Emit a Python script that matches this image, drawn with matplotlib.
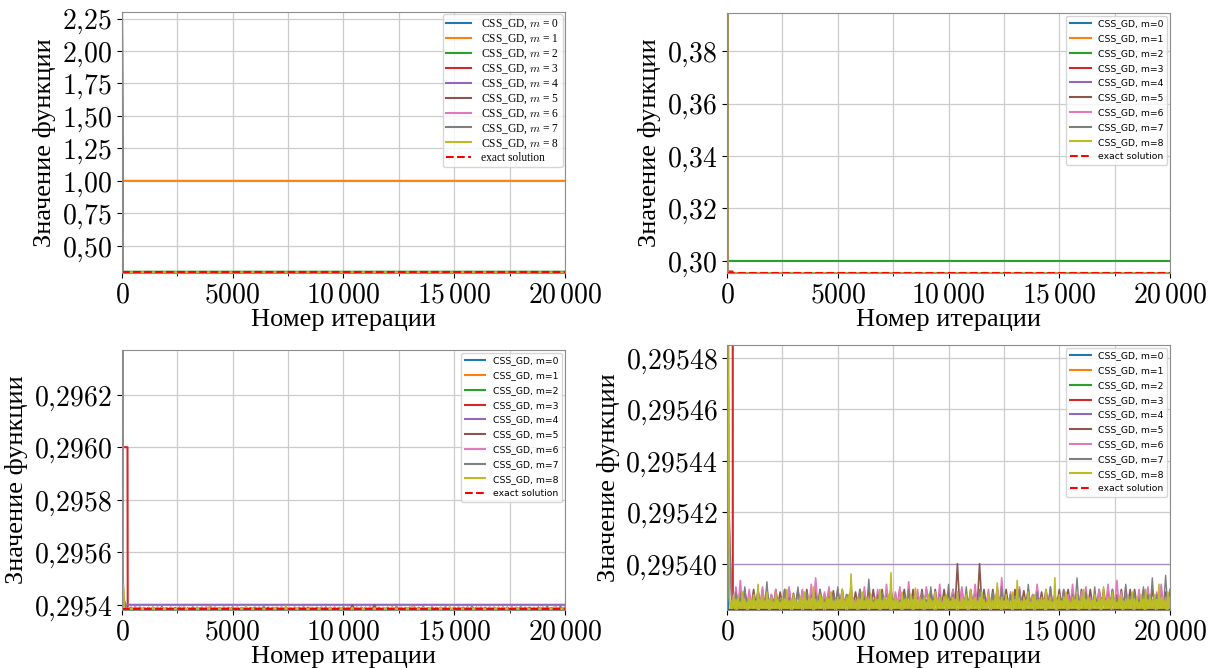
import numpy as np
import matplotlib
matplotlib.use('Agg')
import matplotlib.pyplot as plt
from matplotlib.ticker import FuncFormatter, MultipleLocator

plt.rcParams['mathtext.fontset'] = 'cm'

# objective values recorded during CSS_GD runs, 20000 iterations
n_iter = 20000
exact = 0.2953822
start = 2.30

# runs that settle on a constant value
const_iters = [0, 25, n_iter]
m0_vals = [start, exact, exact]
m1_vals = [start, 1.0, 1.0]
m2_vals = [start, 0.300, 0.300]
m3_iters = [0, 25, 250, 260, n_iter]
m3_vals = [start, 0.2960, 0.2960, exact, exact]
m4_vals = [start, 0.29540, 0.29540]

# oscillating runs: start transient, then the run jumps between a floor
# and the peaks listed below (offsets in 1e-6 above base_level)
base_level = 0.29538
head_iters = [0, 25, 50, 75]
m5_head = [start, 0.29570, 0.29545, 0.29541]
m6_head = [start, 0.29600, 0.29552, 0.29542]
m7_head = [start, 0.29565, 0.29549, 0.29543]
m8_head = [start, 0.29549, 0.295472, 0.29546]

m5_floor = 4.0
m6_floor = 3.0
m7_floor = 2.2
m8_floor = 2.2

m5_peaks = [10, 9, 10, 10, 8, 10, 9.5, 10, 10, 8,
            10, 9, 10, 10, 8.5, 10, 9.5, 10, 9, 10,
            10, 8, 10, 9.5, 10, 10, 8, 10, 9, 10,
            9, 10, 10, 8, 10, 9.5, 10, 8, 10, 10,
            9, 10, 8, 10, 10, 9.5, 10, 8, 10, 9,
            10, 20, 10, 8, 10, 9.5, 20, 10, 8, 10,
            10, 9, 10, 8, 10, 10, 9.5, 10, 8, 10,
            9, 10, 10, 8, 10, 9.5, 10, 10, 8, 10,
            9, 10, 8, 10, 10, 9.5, 10, 8, 10, 9,
            10, 10, 8, 10, 9.5, 10, 8, 10, 9, 10]
m6_peaks = [8, 11, 13.5, 7, 10, 6, 9, 11, 5, 8,
            10, 6, 9, 11, 7, 5, 10, 8, 12, 14.5,
            6, 9, 11, 7, 5, 10, 8, 12, 6, 9,
            11, 7, 5, 10, 8, 12, 6, 9, 11, 7,
            13, 5, 10, 8, 11, 6, 9, 12, 7, 5,
            10, 8, 11, 6, 9, 12, 7, 5, 10, 8,
            11, 14.5, 6, 9, 7, 11, 5, 10, 8, 12,
            6, 9, 11, 7, 5, 10, 8, 12, 6, 9,
            11, 7, 5, 10, 8, 12, 6, 13.5, 9, 11,
            7, 5, 10, 8, 11, 6, 9, 12, 7, 10]
m7_peaks = [5, 9, 7, 11, 6, 8, 10, 6, 13, 7,
            8, 6, 10, 7, 7, 11, 6, 9, 5, 8,
            10, 6, 7, 8, 11, 6, 8, 9, 5, 10,
            7, 14, 6, 8, 9, 6, 11, 7, 6, 8,
            10, 7, 5, 9, 6, 11, 7, 8, 6, 12,
            8, 9, 5, 11, 7, 7, 10, 8, 6, 9,
            6, 11, 7, 8, 7, 10, 6, 12, 7, 9,
            5, 8, 11, 7, 6, 10, 6, 8, 14.5, 7,
            9, 5, 11, 7, 8, 6, 10, 6, 7, 12,
            7, 9, 6, 11, 8, 14.5, 8, 6, 15.5, 10]
m8_peaks = [7, 5.5, 8, 6, 7, 5, 9, 6, 5, 7,
            6, 8, 5.5, 12, 6, 7, 5.5, 9, 6, 7,
            5, 8.5, 6, 5, 7, 6, 10, 5.5, 6, 8,
            6, 5, 7, 6, 9, 5.5, 7, 6, 11, 6,
            5.5, 8, 7, 5, 7, 6.5, 9, 5.5, 6, 7,
            6, 10, 5.5, 7, 8, 16, 6, 5, 7, 6,
            9, 5.5, 7, 6, 8, 5, 7, 6, 10, 5.5,
            7, 6, 8, 16.5, 5.5, 7, 6, 5, 9, 6,
            7, 5.5, 8, 6, 10.5, 5.5, 7, 6, 7, 5,
            8, 6, 5.5, 9, 6, 7, 5, 7, 8, 6,
            5.5, 7, 6, 9, 5, 7, 6, 8, 5.5, 10,
            6, 7, 5.5, 7, 9, 6, 5, 8, 6, 5.5,
            7, 12.5, 6, 7, 5.5, 8, 6, 5, 9, 6,
            13.5, 6, 5.5, 7, 6, 9, 5, 7, 8, 5.5,
            6, 7, 6, 10, 5.5, 7, 5, 14.5, 6, 8,
            5.5, 7, 9, 6, 5, 7, 6, 8, 5.5, 7,
            10, 6, 7, 5.5, 6, 8, 5, 7, 6, 11,
            5.5, 7, 6, 9, 6, 5, 7, 8, 5.5, 6,
            7, 6, 9, 5.5, 7, 5, 8, 6, 10, 6,
            7, 5.5, 8, 6, 12, 6, 7, 5.5, 9, 7]

colors = ['C%d' % i for i in range(9)]


def oscillating(head, peaks, floor, step):
    n = len(peaks)
    peak_it = step * np.arange(1, n + 1)
    it = np.empty(2 * n)
    vals = np.empty(2 * n)
    it[0::2] = peak_it
    it[1::2] = peak_it + step / 2
    vals[0::2] = np.array(peaks)
    vals[1::2] = floor
    it = np.concatenate([head_iters, it])
    vals = np.concatenate([head, base_level + vals * 1e-6])
    return it, vals


runs = [
    (const_iters, m0_vals),
    (const_iters, m1_vals),
    (const_iters, m2_vals),
    (m3_iters, m3_vals),
    (const_iters, m4_vals),
    oscillating(m5_head, m5_peaks, m5_floor, 200),
    oscillating(m6_head, m6_peaks, m6_floor, 200),
    oscillating(m7_head, m7_peaks, m7_floor, 200),
    oscillating(m8_head, m8_peaks, m8_floor, 100),
]


def x_fmt(v, pos):
    v = int(round(v))
    if v >= 10000:
        return r'$%d\,%03d$' % (v // 1000, v % 1000)
    return r'$%d$' % v


def y_fmt(decimals):
    def f(v, pos):
        return '$' + ('%.*f' % (decimals, v)).replace('.', '{,}') + '$'
    return f


panels = [
    # rect, ylim, ytick step, decimals, latex-style legend
    ([0.1003, 0.5913, 0.3643, 0.3907], (0.29, 2.30), 0.25, 2, True),
    ([0.5979, 0.5913, 0.3643, 0.3892], (0.2954, 0.3945), 0.02, 2, False),
    ([0.1003, 0.0868, 0.3643, 0.3892], (0.29538, 0.29637), 0.0002, 4, False),
    ([0.5979, 0.0868, 0.3643, 0.3967], (0.295382, 0.295485), 0.00002, 5, False),
]

fig = plt.figure(figsize=(12.16, 6.68), dpi=100)

for k, (rect, ylim, ystep, dec, latex_legend) in enumerate(panels):
    ax = fig.add_axes(rect)
    for i, (it, vals) in enumerate(runs):
        if latex_legend:
            label = 'CSS_GD, $m$ = %d' % i
        else:
            label = 'CSS_GD, m=%d' % i
        lw = 1.2 if i >= 5 else 1.5
        alpha = 1.0
        if k == 3 and i == 7:
            lw = 1.0
        if k == 3 and i == 4:
            lw, alpha = 1.0, 0.6
        ax.plot(it, vals, color=colors[i], lw=lw, alpha=alpha, label=label)
    ax.plot([0, n_iter], [exact, exact], 'r--', lw=1.5, label='exact solution')

    ax.set_xlim(0, n_iter)
    ax.set_ylim(*ylim)
    ax.xaxis.set_major_locator(MultipleLocator(5000))
    ax.xaxis.set_minor_locator(MultipleLocator(2500))
    ax.yaxis.set_major_locator(MultipleLocator(ystep))
    ax.xaxis.set_major_formatter(FuncFormatter(x_fmt))
    ax.yaxis.set_major_formatter(FuncFormatter(y_fmt(dec)))
    ax.tick_params(labelsize=20)
    ax.tick_params(axis='x', pad=2)
    ax.grid(True, which='both', color='0.8', lw=0.9)
    ax.set_axisbelow(True)
    for s in ax.spines.values():
        s.set_color('0.55')

    ax.set_xlabel('Номер итерации', family='Liberation Serif', fontsize=19, labelpad=0)
    ax.set_ylabel('Значение функции', family='Liberation Serif', fontsize=19, labelpad=4)

    # legend handles drawn at a uniform width regardless of the plotted line
    if latex_legend:
        leg = ax.legend(loc='upper right', borderaxespad=0.2, handlelength=2.2,
                        labelspacing=0.12, borderpad=0.3,
                        prop={'family': 'Liberation Serif', 'size': 8.3})
    else:
        leg = ax.legend(loc='upper right', fontsize=6.7, borderaxespad=0.3,
                        handlelength=2.2, labelspacing=0.62)
    for h in leg.get_lines():
        h.set_linewidth(1.5)
        h.set_alpha(1.0)

fig.savefig('out.png', dpi=100)
